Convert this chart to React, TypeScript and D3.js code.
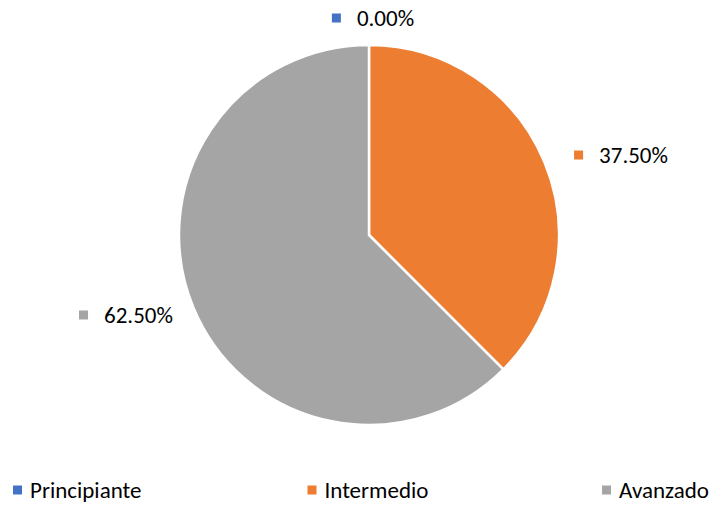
import React, { useEffect, useRef } from 'react';
import * as d3 from 'd3';

const categories = ['Principiante', 'Intermedio', 'Avanzado'];
const values = [0, 37.5, 62.5];
const colors = ['#4472C4', '#ED7D31', '#A5A5A5'];

const W = 715,
  H = 505;

const App = () => {
  const ref = useRef<SVGSVGElement>(null);

  useEffect(() => {
    const svg = d3.select(ref.current);
    svg.selectAll('*').remove();

    const cx = 369,
      cy = 235,
      radius = 190;
    const font = 'Carlito, Lato, "Open Sans", sans-serif';
    const fs = 23;

    const data = categories.map((c, i) => ({ name: c, value: values[i], color: colors[i] }));
    const pie = d3
      .pie<any>()
      .sort(null)
      .value((d) => d.value);
    const arcs = pie(data);
    const arc = d3.arc<any>().innerRadius(0).outerRadius(radius);
    const labelArc = d3.arc<any>().innerRadius(radius * 1.1).outerRadius(radius * 1.1);

    const g = svg.append('g').attr('transform', `translate(${cx},${cy})`);

    g.selectAll('path')
      .data(arcs)
      .enter()
      .append('path')
      .attr('d', arc)
      .attr('fill', (d) => d.data.color)
      .attr('stroke', '#fff')
      .attr('stroke-width', 2.5)
      .attr('stroke-linejoin', 'round');

    // data labels
    arcs.forEach((d) => {
      const [lx, ly] = labelArc.centroid(d);
      const mid = (d.startAngle + d.endAngle) / 2;
      const lg = g.append('g');
      const txt = lg
        .append('text')
        .attr('font-family', font)
        .attr('font-size', fs)
        .attr('fill', '#000')
        .text(d3.format('.2f')(d.value) + '%');
      const tw = (txt.node() as SVGTextElement).getComputedTextLength();
      let x0;
      let yc = ly;
      if (Math.abs(Math.sin(mid)) < 0.2) {
        x0 = lx + 4 - (tw + 25) / 2;
        yc = ly - 8;
      } else if (Math.sin(mid) > 0) {
        x0 = lx + 12;
      } else {
        x0 = lx - tw - 28;
      }
      lg.append('rect')
        .attr('x', x0)
        .attr('y', yc - 4.5)
        .attr('width', 9)
        .attr('height', 9)
        .attr('fill', d.data.color);
      txt.attr('x', x0 + 25).attr('y', yc + 8);
    });

    // legend
    const lx = d3.scalePoint<string>().domain(categories).range([13, 602]);
    const leg = svg
      .append('g')
      .selectAll('g')
      .data(data)
      .enter()
      .append('g')
      .attr('transform', (d) => `translate(${lx(d.name)},490)`);
    leg
      .append('rect')
      .attr('x', 0)
      .attr('y', -4.5)
      .attr('width', 9)
      .attr('height', 9)
      .attr('fill', (d) => d.color);
    leg
      .append('text')
      .attr('x', 17)
      .attr('y', 8)
      .attr('font-family', font)
      .attr('font-size', fs)
      .attr('fill', '#000')
      .text((d) => d.name);
  }, []);

  return (
    <svg
      ref={ref}
      width={W}
      height={H}
      style={{ position: 'absolute', left: 0, top: 0, background: '#fff' }}></svg>
  );
};

export default App;
